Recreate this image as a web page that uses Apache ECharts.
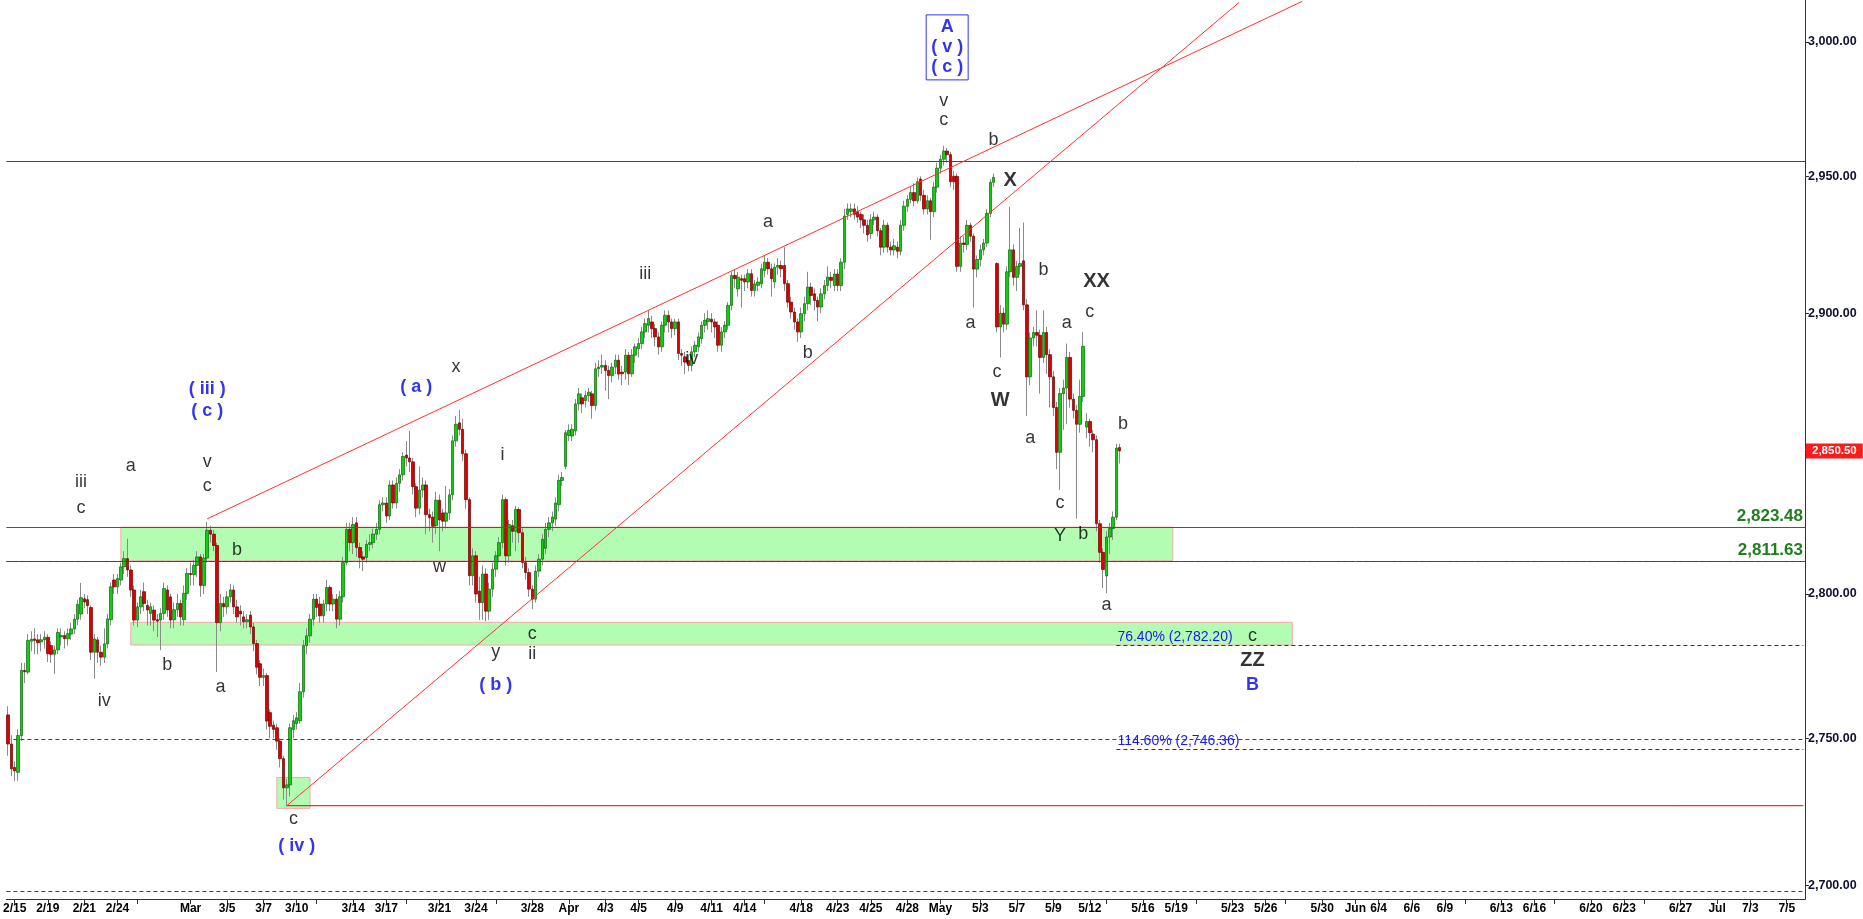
<!DOCTYPE html>
<html><head><meta charset="utf-8">
<script src="https://cdn.jsdelivr.net/npm/echarts@6/dist/echarts.min.js"></script>
<style>html,body{margin:0;padding:0;background:#fff}#c{width:1863px;height:919px}</style>
</head><body><div id="c"></div><script>
// ---- data: [open, close, low, high] per bar ----
const febBars = [
[2758,2748,2744,2761],[2748,2739.5,2737,2751],[2740,2738.8,2735.4,2742],[2738.3,2750.9,2735.4,2753],[2750.9,2773.4,2749,2776],
[2773.4,2772.9,2769,2776],[2772.8,2783.8,2772,2786],[2783.5,2784.2,2780,2787],[2784.3,2783.8,2779,2788],[2784,2783,2779,2786],
[2783.3,2784,2780,2786],[2784,2784.9,2781,2787],[2784.9,2779.2,2776.3,2786],[2782,2779,2776,2783.5],[2779,2780.5,2772.2,2782],
[2780.5,2786.6,2779,2788],[2785,2785.5,2782,2788],[2785.5,2784.4,2781,2787],[2784.4,2786.1,2782,2788],[2786,2787.8,2784,2790],
[2787.8,2791.2,2786,2793],[2791.2,2796.4,2789,2798],[2793,2798.7,2791,2803.9],[2798.3,2797.2,2795,2800],[2798,2795.9,2793,2799.5],
[2795.3,2779.7,2777,2796],[2779.7,2784.3,2770.5,2786],[2784,2779.7,2776,2785],[2779.7,2778,2775,2782],[2778,2782.6,2776,2788],
[2782.6,2791.3,2781,2793],[2791,2802.5,2789,2804],[2804.9,2802.5,2800,2807],[2802.5,2805.4,2800,2807],[2804.9,2809.5,2803,2811],
[2809.5,2812.4,2807,2815],[2812.4,2808.4,2806,2819.4],[2808.4,2801.4,2799,2810],[2801.4,2790.9,2789,2803],[2790.9,2795.5,2788.5,2797],
[2795.5,2799,2793,2801.5],[2800.8,2796.7,2794,2804],[2796,2794.4,2789,2798],[2793.2,2795.5,2789,2797],[2794.4,2790.9,2787,2796],
[2791,2790.5,2785,2793],[2790.9,2793.2,2780.4,2795],[2793.2,2801.9,2791,2804],[2801.4,2794.4,2792,2803],[2799,2790.9,2788,2800],
[2791,2794.5,2788,2797],[2794.5,2796.7,2792,2800],[2796.7,2792,2789,2798],[2791,2800.2,2789,2803],[2800.2,2807.2,2798,2809]
];
const marBars = [
[2807.2,2806.8,2803,2811],[2806.8,2810,2803,2812],[2810,2813,2806,2815],[2813,2803,2799,2814],[2803,2812.6,2800,2814],
[2812.6,2822.4,2811,2825.3],[2822.4,2821,2818,2824],[2821,2817,2815,2822.5],[2817,2790,2772.8,2818],[2790,2796.7,2787,2800],
[2796.7,2795.5,2792,2799],[2795.5,2799,2793,2801],[2799,2801.4,2797,2803.5],[2801.4,2795.5,2793,2803],[2795.5,2792,2790,2798],
[2794,2793,2789,2796],[2792,2790.3,2788,2794],[2790.3,2791,2788,2793],[2792.6,2788.5,2786,2794],[2788.5,2782.7,2780,2790],
[2782.7,2774.5,2772,2784],[2775.7,2771,2768,2777],[2771,2771.6,2768,2774],[2771.6,2755.9,2753,2772.5],[2758.8,2754.1,2750,2760],
[2754.5,2753,2750,2756],[2753.6,2749,2746,2755],[2749,2743,2740,2750],[2743,2733,2729,2744],[2733,2734,2726.9,2736],
[2734,2753.6,2730,2755],[2753,2756,2750,2758],[2755,2757,2753,2759],[2756,2766,2755,2769],[2766,2782,2764,2784],
[2782,2785.4,2779,2788],[2785.4,2791.2,2783,2793],[2791.2,2798.2,2789,2800],[2798.2,2795.3,2792,2800],[2796.5,2792.4,2790,2799],
[2792.4,2796.5,2790,2798],[2796.5,2802.3,2794,2805],[2802.3,2796.5,2794,2803],[2796.5,2798.2,2794,2800],[2798.2,2791.2,2788,2800],
[2791.2,2799,2789,2801],[2799,2811,2797,2813],[2811,2822.7,2810,2825],[2822.7,2818,2815,2825],[2818,2824.4,2814,2827],
[2825,2816.3,2813,2827],[2816.3,2812.8,2809,2818],[2813,2812.2,2808,2815],[2812.8,2817.4,2811,2819],[2817.4,2818,2815,2821],
[2818,2821,2816,2823],[2821,2822.7,2819,2825],[2822.7,2831.4,2821,2833],[2831.4,2832,2829,2834],[2832,2827.4,2825,2834],
[2827.4,2838.4,2826,2840],[2838.4,2832,2830,2840],[2832,2839,2830,2841],[2839,2842,2836,2844],[2842,2848.5,2840,2850],
[2849,2848,2845,2854],[2848,2846.6,2843,2857.6],[2846.6,2837.8,2835,2848],[2837.8,2830.2,2827,2839],[2830.2,2836.6,2828,2845],
[2836.6,2838.4,2834,2841],[2838.4,2827.9,2821,2840],[2827.9,2826.8,2822,2830],[2827,2823.8,2818,2829],[2824,2833,2821,2836],
[2833,2826,2815,2835],[2828.5,2825.6,2822,2830],[2825.6,2828.5,2823,2838],[2828.5,2834.9,2826,2837],[2834.9,2854.1,2833,2856],
[2854.1,2860,2852,2863],[2860.5,2858.2,2856,2865.2],[2858.2,2849.5,2847,2862],[2849.5,2833.2,2830,2851],[2833.2,2806.4,2803,2834],
[2806.4,2813.4,2803,2816],[2813.4,2800,2797,2815],[2801,2797,2791,2806],[2797,2807,2791,2810],[2807,2794,2790.5,2809],
[2794,2801.7,2791,2804],[2801.7,2808.7,2799,2811],[2808.7,2813.4,2806,2815],[2813.4,2818,2811,2820],[2818,2833.2,2816,2835],
[2833.2,2813.4,2810,2834],[2813.4,2824.4,2811,2826],[2824,2822,2818,2826],[2822,2829.7,2815,2831],[2829.7,2821.5,2818,2830.5],
[2821.5,2811,2809,2823],[2811,2807.5,2805,2813],[2807.5,2801.7,2799,2809],[2801.7,2798.2,2794.7,2803],[2798.2,2808,2797,2810],
[2808,2812.2,2806,2814],[2812.2,2819.2,2810,2821],[2816,2822.7,2814,2825],[2822.7,2825,2820,2827],[2825,2827,2822,2829],
[2826.3,2832,2824,2834],[2831.4,2840,2829,2842],[2840,2841,2838,2843]
];
const aprBars = [
[2845,2857,2844,2858],[2856,2857.8,2854,2860],[2855.8,2858.2,2854,2860],[2857.6,2867.3,2856,2869],[2867.3,2870.9,2865,2873],
[2869.5,2867.3,2864,2871],[2868.5,2870.3,2866,2872],[2870.3,2871.5,2868,2873],[2870.9,2866.7,2862,2872],[2866.7,2879.9,2865,2882],
[2879.9,2880.5,2877,2883],[2880.5,2881.1,2878,2885],[2881.1,2879.3,2872,2883],[2879.3,2877.5,2869,2881],[2877.5,2880.5,2875,2882],
[2880.5,2883,2878,2885],[2883,2878,2876,2885],[2878.7,2878.1,2874,2881],[2878.7,2884.8,2876,2887],[2884.8,2878.1,2874,2886],
[2878.1,2884.8,2877,2887],[2884.8,2887.8,2882,2889],[2887.2,2889,2884,2891],[2889,2893.2,2887,2895],[2893.2,2896.2,2891,2898],
[2895.6,2898,2893,2901],[2896.8,2894.4,2891,2899],[2894.4,2891.4,2888,2896],[2891.4,2887.8,2885,2893],[2887.8,2895.6,2886,2897],
[2895.6,2899.2,2893,2901],[2899.2,2896.8,2893,2901],[2896.8,2894.4,2891,2898],[2894.4,2896.8,2892,2898],[2896.8,2885.4,2883,2898],
[2885.4,2884.8,2881,2887],[2884.2,2882.3,2878,2886],[2882.9,2881.1,2879,2885],[2881.1,2886,2879,2888],[2886,2888.4,2884,2890],
[2887.8,2891.4,2886,2893],[2890.8,2895.6,2889,2897],[2895.6,2897.4,2893,2900],[2897,2898,2894,2901],[2897.8,2896.8,2893,2900],
[2896.8,2895,2891,2898],[2895.6,2888.4,2886,2897],[2888.4,2893.2,2886,2895],[2893.2,2895.6,2891,2897],[2895.6,2902.8,2894,2904],
[2902.8,2913.7,2901,2915],[2913.7,2912.5,2909,2916],[2908.8,2913,2906,2915],[2912.5,2911.9,2902,2914],[2912.5,2911.3,2908,2914],
[2911.3,2914.3,2909,2916],[2914.3,2908.2,2906,2916],[2908.2,2910.6,2906,2912],[2910.1,2911.3,2908,2913],[2910.6,2916.1,2909,2918],
[2915.5,2918.5,2913,2921],[2918.5,2916.1,2914,2920],[2916.1,2912.5,2906,2918],[2911.3,2916.7,2909,2918],[2916.7,2917.3,2914,2920],
[2917.3,2916.1,2913,2919],[2917.3,2910.7,2908,2924],[2910.7,2904,2902,2912],[2904,2900.4,2898,2906],[2900.4,2896.8,2894,2902],
[2896.8,2893.2,2889.6,2898],[2893.2,2899.8,2891,2902],[2899.8,2903.4,2897,2906],[2903.4,2909.4,2901,2915],[2909.4,2906.4,2903,2911],
[2907,2904.6,2901,2909],[2904.6,2902.2,2897,2906],[2902.2,2907,2900,2909],[2907,2910,2905,2912],[2910,2913.1,2908,2917],
[2913,2911.9,2909,2915],[2910,2914.2,2908,2916],[2914.2,2910,2908,2916],[2910,2918.5,2908,2920],[2918.5,2935.4,2916,2938],
[2936,2938,2934,2940],[2937,2938,2935,2940],[2938,2936,2934,2940],[2937,2935,2933,2939],[2936,2934,2931,2937],
[2934,2932,2929,2936],[2932,2928.5,2926,2934],[2929,2934,2927,2936],[2934,2935,2932,2937],[2935,2930,2928,2936],
[2930,2924,2921,2931],[2924,2932,2922,2934],[2932,2924,2922,2933],[2924,2923,2921,2926],[2923,2924.5,2921,2927],
[2924,2922.5,2920,2926],[2922.5,2932,2921,2934],[2932,2939,2930,2941],[2939,2941.5,2937,2943],[2941.5,2944,2940,2946],
[2944,2941,2939,2947.5],[2941,2948,2940,2949.5],[2949,2943,2941,2950],[2943,2938,2936,2945],[2938,2941,2936,2943],
[2941,2937,2926.7,2942],[2937,2946,2935,2948],[2946,2953,2944,2955]
];
const mayBars = [
[2953,2956.3,2951,2958],[2956.3,2959.3,2954,2961.3],[2959.3,2958,2955,2960.5],[2958,2948,2946,2959],[2950,2948,2945,2952],
[2950,2917,2915,2951],[2917,2925.5,2915,2928],[2925.5,2925,2922,2928],[2925,2932,2923,2934],[2932,2928,2926,2933],
[2928,2916,2902,2929],[2916,2919.5,2913,2921],[2919.5,2923,2917,2925],[2923,2925.5,2921,2927],[2925.5,2936.4,2924,2938],
[2936.4,2947.8,2935,2949],[2947.8,2949.6,2946,2951],[2918,2895,2893,2918.5],[2895,2900,2884,2903],[2900,2896,2893,2902],
[2896,2915,2894,2917],[2915,2923,2913,2938.8],[2923,2913,2910,2925],[2913,2917,2908,2919],[2917,2918,2914,2931],
[2919,2903,2901,2933],[2903,2877,2863,2905],[2877,2891,2874,2893],[2891,2893,2888,2895],[2893,2892,2888,2901],
[2892,2884,2871,2894],[2884,2893,2882,2901],[2893,2885,2878,2895],[2885,2877,2866,2887],[2877,2866,2863,2879],
[2866,2850,2844,2868],[2850,2871,2836.6,2873],[2871,2873,2858,2876],[2873,2884,2860,2889],[2884,2869,2866,2886],
[2869,2865,2862,2871],[2865,2860,2826.5,2867],[2860,2870,2857,2876],[2870,2888,2868,2893.2],[2859,2861,2855,2864],
[2861,2857,2852,2862],[2856.5,2854.5,2850,2858],[2854.5,2824.7,2822,2856],[2824.7,2814.6,2811,2826],[2814.6,2808.6,2802,2816],
[2806.3,2820,2800.3,2822],[2820,2823,2814,2825],[2823,2827,2819,2829],[2827,2851.5,2826,2853],[2851.7,2850.5,2846,2853]
];
// x-axis tick labels (bar index, text)
const tickIdx  = [2,12,23,33,39,55,66,77,87,93,104,114,120,130,141,147,158,169,180,190,201,212,222,228,239,250,260,271,281,293,304,315,326,331,342,352,358,369,379,385,396,406,413,423,433,439,450,460,466,477,487,493,504,515,525,536];
const tickText = ['2/15','2/19','2/21','2/24','','Mar','3/5','3/7','3/10','','3/14','3/17','','3/21','3/24','','3/28','Apr','4/3','4/5','4/9','4/11','4/14','','4/18','4/23','4/25','4/28','May','5/3','5/7','5/9','5/12','','5/16','5/19','','5/23','5/26','','5/30','Jun','6/4','6/6','6/9','','6/13','6/16','','6/20','6/23','','6/27','Jul','7/3','7/5'];
const yTicks = [2700,2750,2800,2850,2900,2950,3000];
// levels
const topLevel = 2955.4;
const greenLevels = [2823.48, 2811.63];
const dashedRedLevels = [2811.63, 2749.5, 2698];
const supportLow = [84, 2726.9];
const fibLevels = [2782.2, 2746.36];
const fibText = ['76.40% (2,782.20)', '114.60% (2,746.36)'];
const fibStart = 334;
const lastPrice = 2850.5;
const trendUpper = [[60, 2826.4], [390, 3015.2]];
const trendLower = [[84, 2726.9], [371, 3014.8]];
const zones = [[34, 351, 2811.63, 2823.48], [37, 387, 2782.2, 2790.1], [81, 91, 2726, 2736.5]];
// wave labels: text, bar index, price, style
const waveLabels = [
['iii',22,2839.3,'s'],['c',22,2830.1,'s'],['a',37,2845.2,'s'],['v',60,2846.5,'s'],['c',60,2838.0,'s'],['b',69,2815.4,'s'],
['iv',29,2762.8,'s'],['b',48,2775.2,'s'],['a',64,2767.7,'s'],['c',86,2722.5,'s'],['x',135,2880.5,'s'],['w',130,2809.6,'s'],
['i',149,2849.1,'s'],['y',147,2779.7,'s'],['c',158,2785.9,'s'],['ii',158,2778.9,'s'],['iii',192,2914.1,'s'],['iv',206,2883.5,'s'],
['a',229,2933.1,'s'],['b',241,2885.6,'s'],['v',282,2977.9,'s'],['c',282,2970.8,'s'],['b',297,2963.3,'s'],['a',290,2896.3,'s'],
['c',298,2878.8,'s'],['b',312,2915.8,'s'],['a',319,2896.3,'s'],['c',326,2900.3,'s'],['a',308,2855.0,'s'],['c',317,2832.1,'s'],
['b',324,2820.9,'s'],['a',331,2796.2,'s'],['b',336,2860.0,'s'],['c',375,2785.5,'s'],['Y',317,2820.4,'s'],
['X',302,2948.4,'L'],['W',299,2868.6,'L'],['XX',328,2911.5,'L'],['ZZ',375,2776.8,'L'],
['( iii )',60,2872.8,'B'],['( c )',60,2864.7,'B'],['( a )',123,2873.2,'B'],['( b )',147,2768.2,'B'],['( iv )',87,2713.2,'B'],['B',375,2768.2,'B'],
['A\n( v )\n( c )',283,2997.9,'box']
];

const N = 542;
const bars = febBars.concat(marBars, aprBars, mayBars);
const categories = new Array(N).fill('');
tickIdx.forEach((k, j) => { categories[k] = tickText[j] || ' '; });
const bodies = bars.map(b => [b[0], b[1], Math.min(b[0], b[1]), Math.max(b[0], b[1])]);
const fmt = v => v.toLocaleString('en-US', {minimumFractionDigits: 2, maximumFractionDigits: 2});
const narrow = "'Liberation Sans Narrow','Arial Narrow','Liberation Sans',Arial,sans-serif";
const sans = "'Liberation Sans',Arial,sans-serif";

const labelStyles = {
  s: {fontSize: 18, color: '#000', fontFamily: sans},
  L: {fontSize: 20, color: '#000', fontWeight: 'bold', fontFamily: sans},
  B: {fontSize: 18, color: '#0000ee', fontWeight: 'bold', fontFamily: sans},
  box: {fontSize: 18, color: '#0000ee', fontWeight: 'bold', fontFamily: sans, lineHeight: 20,
        borderColor: '#0000ee', borderWidth: 1, padding: [3, 5, 2, 5], align: 'center'}
};
const labelData = waveLabels.map(w => ({
  value: [w[1], w[2]],
  label: Object.assign({show: true, position: 'inside', formatter: w[0]}, labelStyles[w[3]])
}));

const redSolid = {color: '#e80000', width: 1, type: 'solid'};
const trendStyle = {color: '#ff3030', width: 1, type: 'solid'};
const redDash = {color: '#e00000', type: [4, 3], width: 1};
const blueDash = {color: '#1a1aff', width: 1, type: [4, 3]};
const noLabel = {show: false};
const seg = (a, b, style, label) => [
  {coord: a, lineStyle: style, label: label || noLabel},
  {coord: b, lineStyle: style, label: label || noLabel}
];
const markLineData = [];
markLineData.push({yAxis: topLevel, lineStyle: redSolid, label: noLabel});
greenLevels.forEach(v => markLineData.push({yAxis: v, lineStyle: {color: '#1c7a1c', width: 1, type: 'solid'},
  label: {show: true, position: 'insideEndTop', formatter: fmt(v), color: '#1f7f1f', fontSize: 17, fontWeight: 'bold', fontFamily: sans, distance: 2}}));
dashedRedLevels.forEach(v => markLineData.push({yAxis: v, lineStyle: redDash, label: noLabel}));
markLineData.push(seg(trendUpper[0], trendUpper[1], trendStyle));
markLineData.push(seg(trendLower[0], trendLower[1], trendStyle));
fibLevels.forEach((v, j) => markLineData.push(seg([fibStart, v], [N - 1, v], blueDash,
  {show: true, position: 'insideStartTop', formatter: fibText[j], color: '#1a1aee', fontSize: 14, fontFamily: narrow, distance: 1})));
markLineData.push({yAxis: lastPrice, lineStyle: {color: 'rgba(255,255,255,0)', width: 0.1},
  label: {show: true, position: 'end', formatter: fmt(lastPrice), color: '#fff', backgroundColor: '#ff1a1a',
          fontSize: 11.5, fontWeight: 'bold', fontFamily: sans, padding: [2, 6, 1, 6], distance: 1}});

const markAreaData = zones.map(z => [{coord: [z[0], z[3]]}, {coord: [z[1], z[2]]}]);

const chart = echarts.init(document.getElementById('c'), null, {renderer: 'canvas'});
chart.setOption({
  animation: false,
  backgroundColor: '#ffffff',
  grid: {left: 0, right: 58, top: 0, bottom: 20, containLabel: false},
  xAxis: {
    type: 'category', data: categories, boundaryGap: true,
    axisLine: {show: true, lineStyle: {color: '#333', width: 1}},
    axisTick: {show: true, alignWithLabel: true, length: 5, interval: (i, v) => v !== '', lineStyle: {color: '#333'}},
    axisLabel: {show: true, interval: (i, v) => v !== '', color: '#000', fontSize: 12, fontWeight: 'bold', fontFamily: narrow, margin: 4},
    splitLine: {show: false}
  },
  yAxis: {
    type: 'log', logBase: 10, min: 2695.3, max: 3015.7, position: 'right',
    axisLine: {show: true, lineStyle: {color: '#333', width: 1}},
    axisTick: {show: true, length: 4, customValues: yTicks, lineStyle: {color: '#333'}},
    axisLabel: {show: true, customValues: yTicks, formatter: v => fmt(v), color: '#101030', fontSize: 12.5, fontWeight: 'bold', fontFamily: sans, margin: 3},
    splitLine: {show: false}
  },
  series: [
    {type: 'candlestick', name: 'wick', data: bars, barWidth: 1, silent: true,
     itemStyle: {color: '#8a8a8a', color0: '#8a8a8a', borderColor: '#8a8a8a', borderColor0: '#8a8a8a', borderColorDoji: '#8a8a8a', borderWidth: 1},
     markArea: {silent: true, itemStyle: {color: '#b3fdb3', borderColor: '#f5a8a8', borderWidth: 1}, data: markAreaData}},
    {type: 'line', name: 'support', data: [supportLow, [N - 1, supportLow[1]]], showSymbol: false, symbol: 'none', silent: true,
     lineStyle: {color: '#ee0000', width: 1, type: 'solid'}, z: 4},
    {type: 'candlestick', name: 'body', data: bodies, barWidth: 3, silent: true,
     itemStyle: {color: '#0fd00f', color0: '#dc0000', borderColor: '#086808', borderColor0: '#700000', borderColorDoji: '#086808', borderWidth: 0.7},
     markLine: {silent: true, symbol: ['none', 'none'], animation: false, data: markLineData}},
    {type: 'scatter', name: 'waves', data: labelData, symbolSize: 0, silent: true, z: 10}
  ]
});
</script></body></html>
